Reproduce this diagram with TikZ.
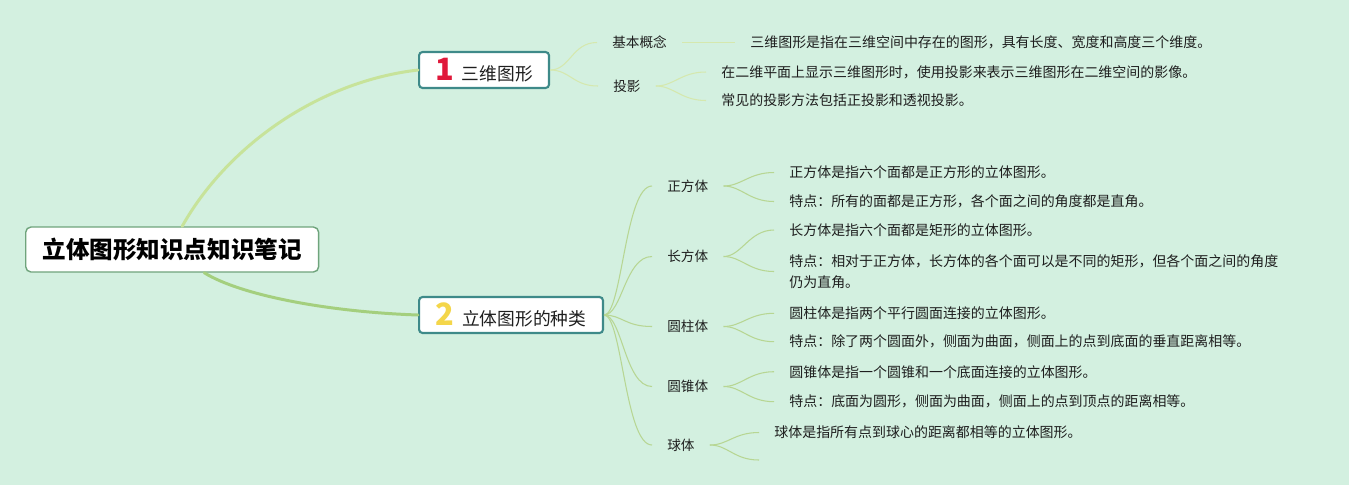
\documentclass[tikz,border=0pt]{standalone}
\usepackage{fontspec}
\setmainfont{Noto Sans CJK SC}
\usepackage{tikz}
\definecolor{Mint}{HTML}{D3F0E0}
\definecolor{Ink}{HTML}{1E1E1E}
\definecolor{RootLine}{HTML}{6FA47C}
\definecolor{TealLine}{HTML}{3E8A89}
\definecolor{NumRed}{HTML}{E0183A}
\definecolor{NumYellow}{HTML}{F4D64A}
\definecolor{BranchA}{HTML}{C7E39A}
\definecolor{BranchB}{HTML}{A4CF7E}
\definecolor{TwigA}{HTML}{D5E8AE}
\definecolor{TwigB}{HTML}{B7D693}
\newcommand{\topicnum}[2]{{\fontsize{17.5pt}{17.5pt}\selectfont\bfseries\color{#1}#2}\hspace{4.5pt}}
\tikzset{
  rootbox/.style={draw=RootLine,line width=.8pt,fill=white,rounded corners=3pt,minimum width=5.86cm,minimum height=.9cm,inner sep=0pt,font=\fontsize{13.4pt}{16pt}\selectfont\bfseries,text=black},
  topicbox/.style={draw=TealLine,line width=1.2pt,fill=white,rounded corners=2pt,minimum height=.72cm,inner sep=0pt,anchor=west,font=\fontsize{10.1pt}{12pt}\selectfont,text=Ink},
  sub/.style={inner xsep=.3cm,inner ysep=1pt,anchor=west,font=\fontsize{7.75pt}{11.9pt}\selectfont,text=Ink},
  leaf/.style={sub,align=left,font=\fontsize{7.95pt}{11.9pt}\selectfont},
  branch/.style={line width=1.7pt,line cap=round},
  twig/.style={line width=.6pt,draw=TwigB},
  paleTwig/.style={twig,draw=TwigA}
}
\begin{document}
\begin{tikzpicture}[x=.02cm,y=-.02cm]
  \fill[Mint] (0,0) rectangle (1349,485);
  \node[rootbox,anchor=west] (root) at (25,249.5) {立体图形知识点知识笔记};
  \node[topicbox,minimum width=2.6cm] (t1) at (418,70) {\topicnum{NumRed}{1}三维图形};
  \node[topicbox,minimum width=3.68cm] (t2) at (418,315) {\topicnum{NumYellow}{2}立体图形的种类};
  \draw[branch,BranchA] ([xshift=.2cm]root.north) .. controls +(43,-77) and +(-103,12) .. (t1.west);
  \draw[branch,BranchB] ([xshift=.64cm]root.south) .. controls +(37,23) and +(-88,-3) .. (t2.west);
  \node[sub] (gainian) at (597,42.5) {基本概念};
  \node[sub] (touying) at (598,86) {投影};
  \node[leaf] (gainianA) at (735,42.5) {三维图形是指在三维空间中存在的图形，具有长度、宽度和高度三个维度。};
  \node[leaf] (touyingA) at (706,72) {在二维平面上显示三维图形时，使用投影来表示三维图形在二维空间的影像。};
  \node[leaf] (touyingB) at (706,100.5) {常见的投影方法包括正投影和透视投影。};
  \draw[paleTwig] (t1.east) .. controls +(20,0) and +(-25,0) .. (gainian.west);
  \draw[paleTwig] (t1.east) .. controls +(20,0) and +(-25,0) .. (touying.west);
  \draw[paleTwig] (gainian.east) -- (gainianA.west);
  \draw[paleTwig] (touying.east) .. controls +(18,0) and +(-25,0) .. (touyingA.west);
  \draw[paleTwig] (touying.east) .. controls +(18,0) and +(-25,0) .. (touyingB.west);
  \node[sub] (zheng) at (652,186) {正方体};
  \node[sub] (chang) at (652,256.5) {长方体};
  \node[sub] (zhu) at (652,326.5) {圆柱体};
  \node[sub] (zhui) at (652,386.5) {圆锥体};
  \node[sub] (qiu) at (652,445) {球体};
  \foreach \k in {zheng,chang,zhu,zhui,qiu}
    \draw[twig] (t2.east) .. controls +(18,0) and +(-27,0) .. (\k.west);
  \node[leaf] (zhengA) at (774,172.5) {正方体是指六个面都是正方形的立体图形。};
  \node[leaf] (zhengB) at (774,201.5) {特点：所有的面都是正方形，各个面之间的角度都是直角。};
  \node[leaf] (changA) at (774,230) {长方体是指六个面都是矩形的立体图形。};
  \node[leaf] (changB) at (774,271.5) {特点：相对于正方体，长方体的各个面可以是不同的矩形，但各个面之间的角度\\仍为直角。};
  \node[leaf] (zhuA) at (774,313.3) {圆柱体是指两个平行圆面连接的立体图形。};
  \node[leaf] (zhuB) at (774,341.7) {特点：除了两个圆面外，侧面为曲面，侧面上的点到底面的垂直距离相等。};
  \node[leaf] (zhuiA) at (774,371.7) {圆锥体是指一个圆锥和一个底面连接的立体图形。};
  \node[leaf] (zhuiB) at (774,401.7) {特点：底面为圆形，侧面为曲面，侧面上的点到顶点的距离相等。};
  \node[leaf] (qiuA) at (759,432.5) {球体是指所有点到球心的距离都相等的立体图形。};
  \coordinate (qiuB) at (759,460);
  \draw[twig] (zheng.east) .. controls +(18,0) and +(-25,0) .. (zhengA.west);
  \draw[twig] (zheng.east) .. controls +(18,0) and +(-25,0) .. (zhengB.west);
  \draw[twig] (chang.east) .. controls +(18,0) and +(-25,0) .. (changA.west);
  \draw[twig] (chang.east) .. controls +(18,0) and +(-25,0) .. (changB.west);
  \draw[twig] (zhu.east) .. controls +(18,0) and +(-25,0) .. (zhuA.west);
  \draw[twig] (zhu.east) .. controls +(18,0) and +(-25,0) .. (zhuB.west);
  \draw[twig] (zhui.east) .. controls +(18,0) and +(-25,0) .. (zhuiA.west);
  \draw[twig] (zhui.east) .. controls +(18,0) and +(-25,0) .. (zhuiB.west);
  \draw[twig] (qiu.east) .. controls +(18,0) and +(-25,0) .. (qiuA.west);
  \draw[twig] (qiu.east) .. controls +(18,0) and +(-25,0) .. (qiuB);
\end{tikzpicture}
\end{document}
